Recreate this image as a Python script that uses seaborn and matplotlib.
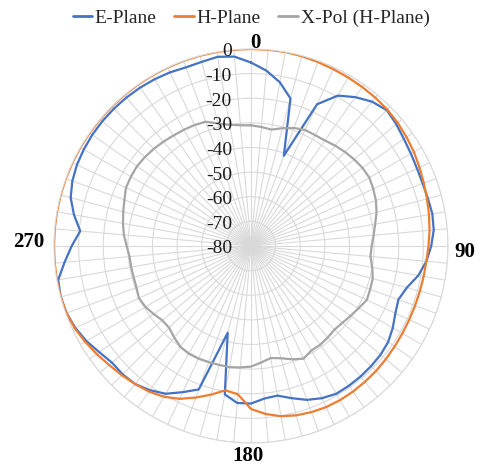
import numpy as np
import pandas as pd
import matplotlib
matplotlib.use("Agg")
import matplotlib.pyplot as plt
import matplotlib.transforms as mtransforms
import seaborn as sns

# Measured radiation pattern, normalised gain in dB, every 5 degrees
angles_deg = list(range(0, 360, 5))

e_plane = [
    -5.5, -8.5, -12.5, -18, -41, -16.5, -9.5, -6.2, -3.5, -2,
    -3, -4.2, -5, -5.6, -5.8, -5.6, -5.2, -5.5, -6.8, -8.5,
    -11, -14.5, -16.3, -15.3, -13.5, -12, -11.3, -11, -10.8, -10.7,
    -10.7, -11.8, -13.5, -16, -18.3, -17.8, -16, -16, -18.8, -43.5,
    -18, -14.5, -10.7, -8.5, -6.8, -6.3, -6.3, -4.8, -2.8, -1.3,
    -0.3, 0, -0.5, -4, -7.2, -10.4, -7, -4.2, -2.8, -2,
    -1.6, -1.3, -1.2, -1.2, -1.3, -1.5, -1.8, -2.2, -2.8, -2.6,
    -2, -2.8,
]

h_plane = [
    0, 0, 0, -0.2, -0.5, -0.8, -1, -1.2, -1.4, -1.7,
    -2.2, -2.9, -3.6, -4.5, -5.3, -6, -6.6, -7.2, -7.9, -8.5,
    -8.8, -9, -9.1, -9.1, -9, -8.8, -8.5, -8.2, -8, -7.8,
    -7.7, -7.8, -8.2, -8.8, -9.8, -11.5, -13.8, -19.5, -20.5, -17.5,
    -14.5, -11.5, -9.3, -7.8, -6.8, -5.8, -4.8, -3.5, -2.2, -1,
    -0.3, 0, 0, 0, 0, 0, 0, 0, 0, 0,
    0, 0, 0, 0, 0, 0, 0, 0, 0, 0,
    0, 0,
]

x_pol = [
    -31, -31.5, -32, -30.5, -29, -28, -28, -27.7, -26.8, -26,
    -25.3, -24.7, -24.5, -25.2, -26, -27.2, -28.8, -30, -31, -31.3,
    -30, -28.8, -28.5, -28.1, -29.5, -30.6, -31.5, -32, -31.5, -31,
    -31, -29.5, -31, -32.8, -33.8, -32.5, -31, -30.5, -30, -30,
    -29.8, -29.5, -29.5, -30, -31.5, -33, -33, -31.8, -30.5, -29.8,
    -30.5, -30.7, -30.6, -30.5, -29.5, -28.2, -27.2, -26.3, -25.3, -24,
    -23.7, -23.5, -23.8, -24.2, -24.7, -25.2, -25.5, -25.8, -26.3, -28.5,
    -30, -30.8,
]

series_names = ["E-Plane", "H-Plane", "X-Pol (H-Plane)"]
series_colors = ["#4472C4", "#ED7D31", "#A5A5A5"]
ring_ticks = list(range(-80, 1, 10))
angle_labels = ["0", "90", "180", "270"]

sns.set_theme(style="white")
plt.rcParams["font.family"] = ["Liberation Serif", "DejaVu Serif"]

# Long-form table, each trace closed back onto its 0-degree sample
rows = []
for name, vals in zip(series_names, [e_plane, h_plane, x_pol]):
    for d, v in zip(angles_deg + [360], vals + [vals[0]]):
        rows.append({"theta": np.deg2rad(d), "dB": v, "series": name})
df = pd.DataFrame(rows)

fig = plt.figure(figsize=(4.82, 4.66), dpi=100)
ax = fig.add_axes([0.112, 0.0494, 0.8174, 0.8455], projection="polar")

sns.lineplot(
    data=df, x="theta", y="dB", hue="series", hue_order=series_names,
    palette=dict(zip(series_names, series_colors)), sort=False,
    estimator=None, lw=1.6, ax=ax,
)

ax.set_theta_zero_location("N")
ax.set_theta_direction(-1)
ax.set_ylim(-80, 0)
ax.set_yticks(ring_ticks)
ax.set_yticklabels([])
ax.set_xticks(np.deg2rad(angles_deg))
ax.set_xticklabels([])
ax.tick_params(axis="both", length=0)
ax.grid(True, color="#d9d9d9", lw=0.8)
ax.spines["polar"].set_color("#d9d9d9")
ax.spines["polar"].set_linewidth(0.8)
ax.set_xlabel("")
ax.set_ylabel("")

# Ring values written just left of the 0-degree spoke
off = mtransforms.offset_copy(ax.transData, fig=fig, x=-19, y=-3, units="dots")
for t in ring_ticks:
    ax.text(0, t, str(t), transform=off, ha="right", va="center",
            fontsize=14, color="#1a1a1a")

# Cardinal angle labels just outside the outer ring
label_shift = [(4, 6), (17, -6), (-3, -13), (-25, 4)]
for lab, (dx, dy) in zip(angle_labels, label_shift):
    tr = mtransforms.offset_copy(ax.transData, fig=fig, x=dx, y=dy, units="dots")
    ax.text(np.deg2rad(float(lab)), 0, lab, transform=tr, ha="center",
            va="center", fontsize=15, fontweight="bold", color="black")

handles, labels = ax.get_legend_handles_labels()
ax.get_legend().remove()
leg = fig.legend(handles, labels, loc="center",
                 bbox_to_anchor=(251 / 482, 1 - 18 / 466), ncol=3,
                 frameon=False, fontsize=14, handlelength=1.0,
                 handletextpad=0.15, columnspacing=0.9)
for line in leg.get_lines():
    line.set_linewidth(2)

fig.savefig("out.png", dpi=100)
